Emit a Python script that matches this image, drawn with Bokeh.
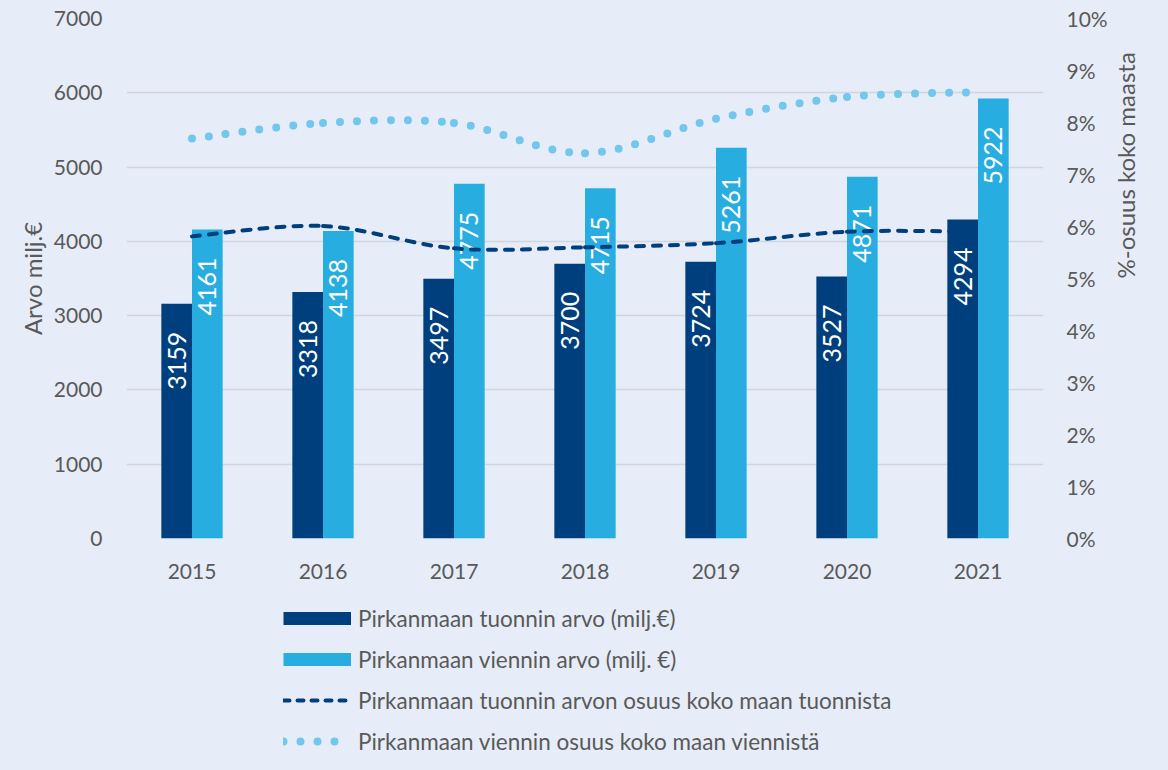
import numpy as np
from bokeh.plotting import figure
from bokeh.layouts import column
from bokeh.models import (Range1d, LinearAxis, FixedTicker, PrintfTickFormatter,
                          Legend, LegendItem, ColumnDataSource)
from bokeh.core.properties import value
from bokeh.embed import file_html
from bokeh.resources import INLINE

# ---------------- data ----------------
years = ["2015", "2016", "2017", "2018", "2019", "2020", "2021"]
import_value = [3159, 3318, 3497, 3700, 3724, 3527, 4294]      # milj. €
export_value = [4161, 4138, 4775, 4715, 5261, 4871, 5922]      # milj. €
import_share = [5.81, 6.01, 5.58, 5.60, 5.68, 5.90, 5.90]      # %
export_share = [7.69, 7.99, 7.99, 7.41, 8.07, 8.49, 8.58]      # %
left_ticks = [0, 1000, 2000, 3000, 4000, 5000, 6000, 7000]
right_ticks = [0, 1, 2, 3, 4, 5, 6, 7, 8, 9, 10]

label_import = "Pirkanmaan tuonnin arvo (milj.€)"
label_export = "Pirkanmaan viennin arvo (milj. €)"
label_ishare = "Pirkanmaan tuonnin arvon osuus koko maan tuonnista"
label_eshare = "Pirkanmaan viennin osuus koko maan viennistä"

# ---------------- style ----------------
BG = "#e6edf8"
DARK = "#003f7e"
LIGHT = "#27ade0"
DOT = "#72c7ec"
TXT = "#595959"
FONT = "Lato"

FRAME_W = 917
FRAME_H = 520
B_LEFT, B_RIGHT = 126, 109
Y_MAX = 7000
n = len(years)
xc = np.arange(n) + 0.5
bw = 0.234
off = bw / 2

p = figure(frame_width=FRAME_W, frame_height=FRAME_H,
           x_range=Range1d(0, n), y_range=Range1d(0, Y_MAX),
           output_backend="svg", toolbar_location=None,
           min_border_left=B_LEFT, min_border_right=B_RIGHT,
           min_border_top=18, min_border_bottom=62)
p.extra_y_ranges = {"pct": Range1d(0, 10)}
p.background_fill_color = BG
p.border_fill_color = BG
p.outline_line_color = None

# grid
p.xgrid.visible = False
p.ygrid.grid_line_color = "#d2d6dc"
p.ygrid.grid_line_width = 1.6
p.ygrid.ticker = FixedTicker(ticks=left_ticks)

# x axis
p.xaxis.ticker = FixedTicker(ticks=list(xc))
p.xaxis.major_label_overrides = {float(x): y for x, y in zip(xc, years)}
p.xaxis.axis_line_color = None
p.xaxis.major_tick_line_color = None
p.xaxis.major_tick_out = 0
p.xaxis.minor_tick_line_color = None
p.xaxis.major_label_text_font = FONT
p.xaxis.major_label_text_font_size = "21px"
p.xaxis.major_label_text_color = TXT
p.xaxis.major_label_standoff = 25

# left axis
p.yaxis.ticker = FixedTicker(ticks=left_ticks)
p.yaxis.axis_line_color = None
p.yaxis.major_tick_line_color = None
p.yaxis.major_tick_out = 0
p.yaxis.minor_tick_line_color = None
p.yaxis.major_label_text_font = FONT
p.yaxis.major_label_text_font_size = "21px"
p.yaxis.major_label_text_color = TXT
p.yaxis.major_label_standoff = 24
p.yaxis.axis_label = "Arvo milj.€"
p.yaxis.axis_label_text_font = FONT
p.yaxis.axis_label_text_font_size = "24px"
p.yaxis.axis_label_text_font_style = "normal"
p.yaxis.axis_label_text_color = TXT
p.yaxis.axis_label_standoff = 4

# right axis
ra = LinearAxis(y_range_name="pct", ticker=FixedTicker(ticks=right_ticks),
                formatter=PrintfTickFormatter(format="%d%%"))
ra.axis_line_color = None
ra.major_tick_line_color = None
ra.major_tick_out = 0
ra.minor_tick_line_color = None
ra.major_label_text_font = FONT
ra.major_label_text_font_size = "21px"
ra.major_label_text_color = TXT
ra.major_label_standoff = 23
ra.axis_label = "%-osuus koko maasta"
ra.axis_label_text_font = FONT
ra.axis_label_text_font_size = "24px"
ra.axis_label_text_font_style = "normal"
ra.axis_label_text_color = TXT
ra.axis_label_standoff = 15
ra.axis_label_orientation = np.pi / 2
ra.axis_label_text_align = "center"
ra.axis_label_text_baseline = "middle"
p.add_layout(ra, "right")

# bars
px_per_unit = FRAME_H / Y_MAX
label_gap = 28 / px_per_unit   # places the label end ~15 px below the bar top
src = ColumnDataSource(dict(x_imp=xc - off, x_exp=xc + off,
                            imp=import_value, exp=export_value,
                            imp_ly=[v - label_gap for v in import_value],
                            exp_ly=[v - label_gap for v in export_value],
                            imp_t=[str(v) for v in import_value],
                            exp_t=[str(v) for v in export_value]))
p.vbar(x="x_imp", top="imp", width=bw, bottom=0, source=src,
       fill_color=DARK, line_color=None)
p.vbar(x="x_exp", top="exp", width=bw, bottom=0, source=src,
       fill_color=LIGHT, line_color=None)

for xcol, ycol, tcol in [("x_imp", "imp_ly", "imp_t"), ("x_exp", "exp_ly", "exp_t")]:
    p.text(x=xcol, y=ycol, text=tcol, source=src, angle=np.pi / 2,
           text_align="right", text_baseline="middle",
           text_color="white", text_font=value(FONT), text_font_size="25px")


# smoothed share lines (cubic Bezier segments through the data points)
def smooth_segments(xs, ys):
    xs = np.asarray(xs, float)
    ys = np.asarray(ys, float)
    m = len(xs)
    seg = dict(x0=[], y0=[], x1=[], y1=[], cx0=[], cy0=[], cx1=[], cy1=[])
    for i in range(m - 1):
        xp, yp = (xs[i - 1], ys[i - 1]) if i > 0 else (xs[i], ys[i])
        xn, yn = (xs[i + 2], ys[i + 2]) if i + 2 < m else (xs[i + 1], ys[i + 1])
        seg["x0"].append(xs[i]); seg["y0"].append(ys[i])
        seg["x1"].append(xs[i + 1]); seg["y1"].append(ys[i + 1])
        seg["cx0"].append(xs[i] + (xs[i + 1] - xp) / 6)
        seg["cy0"].append(ys[i] + (ys[i + 1] - yp) / 6)
        seg["cx1"].append(xs[i + 1] - (xn - xs[i]) / 6)
        seg["cy1"].append(ys[i + 1] - (yn - ys[i]) / 6)
    return ColumnDataSource(seg)


p.bezier(x0="x0", y0="y0", x1="x1", y1="y1", cx0="cx0", cy0="cy0",
         cx1="cx1", cy1="cy1", source=smooth_segments(xc, import_share),
         y_range_name="pct", line_color=DARK, line_width=4,
         line_dash="8 9", line_cap="round")
p.bezier(x0="x0", y0="y0", x1="x1", y1="y1", cx0="cx0", cy0="cy0",
         cx1="cx1", cy1="cy1", source=smooth_segments(xc, export_share),
         y_range_name="pct", line_color=DOT, line_width=8,
         line_dash="0 17", line_cap="round")

# ---------------- legend strip below the chart ----------------
LG_H = 154
lg = figure(frame_width=FRAME_W, frame_height=LG_H,
            x_range=Range1d(0, 1), y_range=Range1d(0, 1),
            x_axis_type=None, y_axis_type=None, output_backend="svg",
            toolbar_location=None, min_border_left=B_LEFT,
            min_border_right=B_RIGHT, min_border_top=0, min_border_bottom=0)
lg.background_fill_color = BG
lg.border_fill_color = BG
lg.outline_line_color = None
lg.grid.visible = False

# legend-only proxy glyphs (no visible data)
proxy = ColumnDataSource(dict(x=[np.nan], y=[np.nan]))
g_imp = lg.line(x="x", y="y", source=proxy, line_color=DARK, line_width=13,
                line_cap="butt")
g_exp = lg.line(x="x", y="y", source=proxy, line_color=LIGHT, line_width=13,
                line_cap="butt")
g_ish = lg.line(x="x", y="y", source=proxy, line_color=DARK, line_width=4,
                line_dash="6 8", line_cap="round")
g_esh = lg.line(x="x", y="y", source=proxy, line_color=DOT, line_width=8,
                line_dash="0 17", line_cap="round")

leg = Legend(items=[LegendItem(label=label_import, renderers=[g_imp]),
                    LegendItem(label=label_export, renderers=[g_exp]),
                    LegendItem(label=label_ishare, renderers=[g_ish]),
                    LegendItem(label=label_eshare, renderers=[g_esh])],
             location=(157, -1), orientation="vertical",
             glyph_width=68, glyph_height=28, label_height=28, spacing=13,
             padding=0, margin=0, label_standoff=7, border_line_color=None,
             background_fill_alpha=0, label_text_font=FONT,
             label_text_font_size="22.5px", label_text_color=TXT)
lg.add_layout(leg)

layout = column(p, lg, spacing=0)
html = file_html(layout, INLINE)
style = "<style>html, body { background-color: %s; }</style>" % BG
html = html.replace("</head>", style + "\n</head>", 1)
open("out.html", "w").write(html)
